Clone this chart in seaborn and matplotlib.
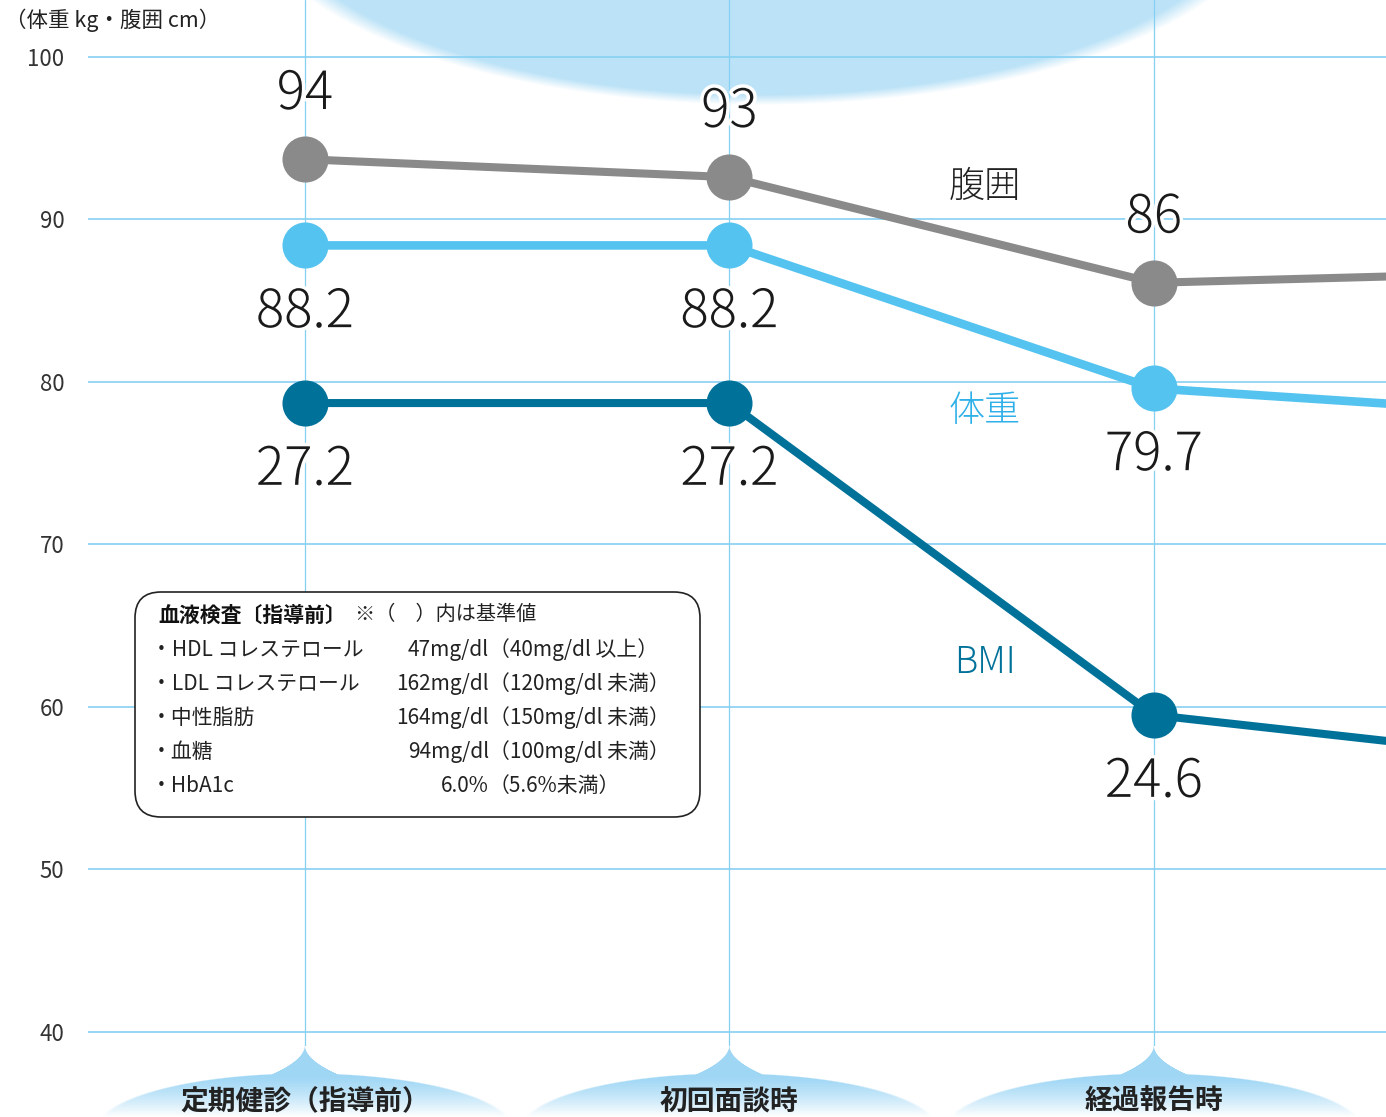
import numpy as np
import pandas as pd
import matplotlib
matplotlib.use("Agg")
import matplotlib.pyplot as plt
import seaborn as sns
from matplotlib.patches import FancyBboxPatch
from matplotlib.transforms import IdentityTransform
import matplotlib.patheffects as pe

# ---------------- data ----------------
categories = ['定期健診（指導前）', '初回面談時', '経過報告時']
stage_x = [0, 1, 2]
line_x = [0, 1, 2, 3]          # 3 = next stage, beyond the right edge

waist_values = [94, 93, 86]
weight_values = [88.2, 88.2, 79.7]
bmi_values = [27.2, 27.2, 24.6]

# heights at which each series is drawn on the shared axis
waist_pos = [93.7, 92.6, 86.1, 86.8]
weight_pos = [88.4, 88.4, 79.6, 77.9]
bmi_pos = [78.7, 78.7, 59.5, 56.6]

series_names = ['腹囲', '体重', 'BMI']
y_ticks = [40, 50, 60, 70, 80, 90, 100]

blood_title = '血液検査〔指導前〕'
blood_note = '※（　）内は基準値'
blood_items = ['・HDL コレステロール', '・LDL コレステロール', '・中性脂肪', '・血糖', '・HbA1c']
blood_values = ['47mg/dl', '162mg/dl', '164mg/dl', '94mg/dl', '6.0%']
blood_refs = ['（40mg/dl 以上）', '（120mg/dl 未満）', '（150mg/dl 未満）', '（100mg/dl 未満）', '（5.6%未満）']

unit_label = '（体重 kg・腹囲 cm）'

# ---------------- style ----------------
sns.set_theme(style='white')
plt.rcParams['font.family'] = ['Noto Sans CJK JP', 'DejaVu Sans']

GRAY = '#8a8a8a'
LBLUE = '#55c3f0'
LBLUE_TXT = '#2fb0e8'
TEAL = '#00729a'
GRID = '#86d0f2'
TXT = '#1a1a1a'

W, H = 1386, 1117
fig = plt.figure(figsize=(W / 100, H / 100), dpi=100)

bg = fig.add_axes([0, 0, 1, 1], zorder=0)
ax = fig.add_axes([88 / W, 0, 1 - 88 / W, 1], zorder=1)
ax.set_facecolor('none')

ax.set_xlim(-0.511, 2.547)
ax.set_ylim(34.77, 103.5)

# ---------------- background decorations ----------------
yy, xx = np.mgrid[0:H, 0:W] + 0.5
img = np.ones((H, W, 3))

# soft ellipse at the top
r = np.sqrt(((xx - 760) / 515) ** 2 + ((yy + 100) / 205) ** 2)
a_top = np.clip((1 - r) / 0.05, 0, 1)[..., None]
top_col = np.array([0.74, 0.89, 0.97])
img = img * (1 - a_top) + top_col * a_top

# droplet shapes under each stage
fig.canvas.draw()
c1 = np.array([0.62, 0.84, 0.96])
for i in stage_x:
    cx = ax.transData.transform((i, 40))[0]
    re = np.sqrt(((xx - cx) / 210) ** 2 + ((yy - 1130) / 57) ** 2)
    m_e = np.clip((1 - re) / 0.02, 0, 1)
    w = 28 * (np.clip(yy - 1045, 0, None) / 27) ** 2
    m_p = np.clip(w - np.abs(xx - cx) + 0.5, 0, 1) * (yy >= 1045) * (yy <= 1090)
    m = np.maximum(m_e, m_p)[..., None]
    t = np.clip((yy - 1075) / (1117 - 1075), 0, 1)[..., None] ** 1.3
    col = c1 + (1 - c1) * t
    img = img * (1 - m) + col * m

bg.imshow(img, extent=(0, W, H, 0), interpolation='nearest', aspect='auto')
bg.set_xlim(0, W)
bg.set_ylim(H, 0)
bg.axis('off')

# ---------------- grid ----------------
ax.set_yticks(y_ticks)
ax.set_yticklabels([str(v) for v in y_ticks], fontsize=16, color='#333333')
ax.tick_params(axis='y', length=0, pad=17)
ax.set_xticks([])
ax.grid(axis='y', color=GRID, linewidth=1.2)
ax.grid(axis='x', visible=False)
for i in stage_x:
    ax.axvline(i, ymin=(H - 1045) / H, ymax=1, color=GRID, linewidth=0.9, zorder=0.5)
for s in ax.spines.values():
    s.set_visible(False)

# ---------------- lines & markers ----------------
sns.lineplot(x=line_x, y=waist_pos, color=GRAY, linewidth=5.8, sort=False,
             estimator=None, ax=ax, zorder=2)
sns.lineplot(x=line_x, y=weight_pos, color=LBLUE, linewidth=6.2, sort=False,
             estimator=None, ax=ax, zorder=2)
sns.lineplot(x=line_x, y=bmi_pos, color=TEAL, linewidth=5.8, sort=False,
             estimator=None, ax=ax, zorder=2)

for pos, col in [(waist_pos, GRAY), (weight_pos, LBLUE), (bmi_pos, TEAL)]:
    sns.scatterplot(x=stage_x, y=pos[:3], color=col, s=1100, linewidth=0,
                    ax=ax, zorder=3)

# ---------------- value labels ----------------
stroke = [pe.withStroke(linewidth=5, foreground='white')]
def lab(v):
    return f'{v:g}'

for vals, pos, off in [(waist_values, waist_pos, 65),
                       (weight_values, weight_pos, -67),
                       (bmi_values, bmi_pos, -67)]:
    for i, v in enumerate(vals):
        ax.annotate(lab(v), (stage_x[i], pos[i]), xytext=(0, off),
                    textcoords='offset pixels', ha='center', va='center',
                    fontsize=38, color=TXT, weight='light',
                    path_effects=stroke, zorder=4)

# series names
ax.text(1.602, 92.0, series_names[0], color='#222222', fontsize=26,
        ha='center', va='center', zorder=4, weight='light')
ax.text(1.602, 78.2, series_names[1], color=LBLUE_TXT, fontsize=26,
        ha='center', va='center', zorder=4, weight='light')
ax.text(1.602, 62.7, series_names[2], color=TEAL, fontsize=26,
        ha='center', va='center', zorder=4, weight='light')

# stage labels
for i, c in zip(stage_x, categories):
    ax.text(i, 35.68, c, ha='center', va='center', fontsize=20,
            weight='bold', color='#222222', zorder=4)

# ---------------- unit label ----------------
T = IdentityTransform()
fig.text(5, H - 20, unit_label, transform=T, fontsize=15.5, va='center',
         ha='left', color='#222222')

# ---------------- blood test box ----------------
box = FancyBboxPatch((135, H - 817), 565, 225,
                     boxstyle='round,pad=0,rounding_size=26',
                     transform=T, facecolor='white', edgecolor='#222222',
                     linewidth=1.2, zorder=5)
fig.add_artist(box)
fig.text(158, H - 615, blood_title, transform=T, fontsize=15, weight='bold',
         va='center', ha='left', color='#111111', zorder=6)
fig.text(355, H - 615, blood_note, transform=T, fontsize=14.5,
         va='center', ha='left', color='#222222', zorder=6)
row_y = [650, 684, 718, 752, 786]
for y, it, v, rf in zip(row_y, blood_items, blood_values, blood_refs):
    fig.text(151, H - y, it, transform=T, fontsize=15, va='center',
             ha='left', color='#222222', zorder=6)
    fig.text(489, H - y, v, transform=T, fontsize=15, va='center',
             ha='right', color='#222222', zorder=6)
    fig.text(489, H - y, rf, transform=T, fontsize=15, va='center',
             ha='left', color='#222222', zorder=6)

fig.savefig('out.png', dpi=100)
